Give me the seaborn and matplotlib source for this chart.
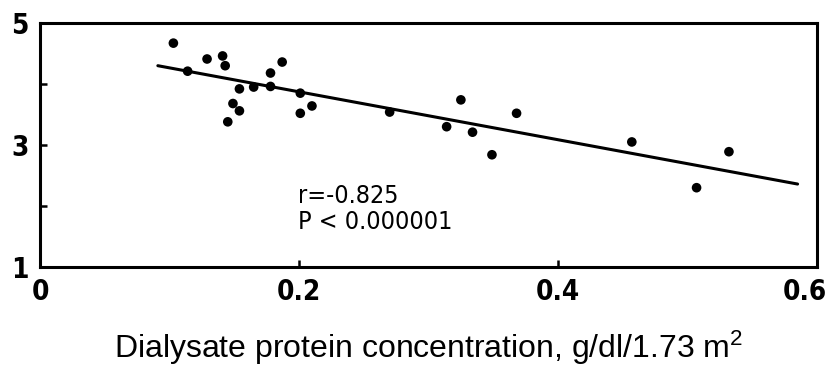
import matplotlib
matplotlib.use("Agg")
import matplotlib.pyplot as plt
import matplotlib.transforms as mtransforms
import seaborn as sns
import pandas as pd

# Data
protein = [0.103, 0.114, 0.129, 0.141, 0.143, 0.154, 0.165, 0.149, 0.154, 0.145,
           0.178, 0.187, 0.178, 0.201, 0.201, 0.210, 0.270, 0.325, 0.314, 0.334,
           0.349, 0.368, 0.457, 0.532, 0.507]
value = [4.67, 4.21, 4.41, 4.46, 4.30, 3.92, 3.95, 3.68, 3.56, 3.38,
         4.18, 4.36, 3.96, 3.85, 3.52, 3.64, 3.54, 3.74, 3.30, 3.21,
         2.84, 3.52, 3.05, 2.89, 2.30]
fit_x = [0.091, 0.585]
fit_y = [4.30, 2.36]
xticks = [0, 0.2, 0.4, 0.6]
xticklabels = ["0", "0.2", "0.4", "0.6"]
yticks_major = [1, 3, 5]
yticks_minor = [2, 4]
annotation = ["r=-0.825", "P < 0.000001"]
xlabel = "Dialysate protein concentration, g/dl/1.73 m$^2$"

sns.set_theme(style="white")
plt.rcParams["font.family"] = ["DejaVu Sans", "Liberation Sans"]
plt.rcParams["mathtext.fontset"] = "custom"
plt.rcParams["mathtext.rm"] = "Liberation Sans"
plt.rcParams["mathtext.it"] = "Liberation Sans"

df = pd.DataFrame({"x": protein, "y": value})
fit = pd.DataFrame({"x": fit_x, "y": fit_y})

fig = plt.figure(figsize=(8.3, 3.75), dpi=100)
ax = fig.add_axes([40 / 830, 108 / 375, 777 / 830, 244 / 375])

sns.scatterplot(data=df, x="x", y="y", ax=ax, color="black", s=48,
                edgecolor="none", linewidth=0, zorder=3)
sns.lineplot(data=fit, x="x", y="y", ax=ax, color="black", linewidth=2.2,
             zorder=2)

ax.set_xlim(0, 0.6)
ax.set_ylim(1, 5)
ax.set_xticks(xticks)
ax.set_xticklabels(xticklabels)
ax.set_yticks(yticks_major)
ax.set_yticklabels([str(v) for v in yticks_major])
ax.set_yticks(yticks_minor, minor=True)

for s in ax.spines.values():
    s.set_visible(True)
    s.set_color("black")
    s.set_linewidth(2.2)

ax.tick_params(axis="both", which="both", direction="in", length=5, width=1.8,
               color="black", labelcolor="black", pad=8)
ax.tick_params(axis="y", which="minor", left=True, length=5)
ax.tick_params(axis="x", bottom=True, top=False)
ax.tick_params(axis="y", left=True, right=False)
for lbl in ax.get_xticklabels() + ax.get_yticklabels():
    lbl.set_fontweight("bold")
    lbl.set_fontstretch("condensed")
    lbl.set_fontsize(20)

# keep the last x label inside the figure edge
last = ax.get_xticklabels()[-1]
last.set_transform(last.get_transform() +
                   mtransforms.ScaledTranslation(-12 / 100, 0, fig.dpi_scale_trans))

ax.set_xlabel(xlabel, fontsize=23, family=["Liberation Sans", "DejaVu Sans"],
              labelpad=16, color="black")
ax.set_ylabel("")

for yv, txt in zip([2.16, 1.74], annotation):
    ax.text(0.199, yv, txt, fontsize=18, va="center", ha="left",
            color="black", fontstretch="condensed")

fig.savefig("out.png", dpi=100, facecolor="white")
